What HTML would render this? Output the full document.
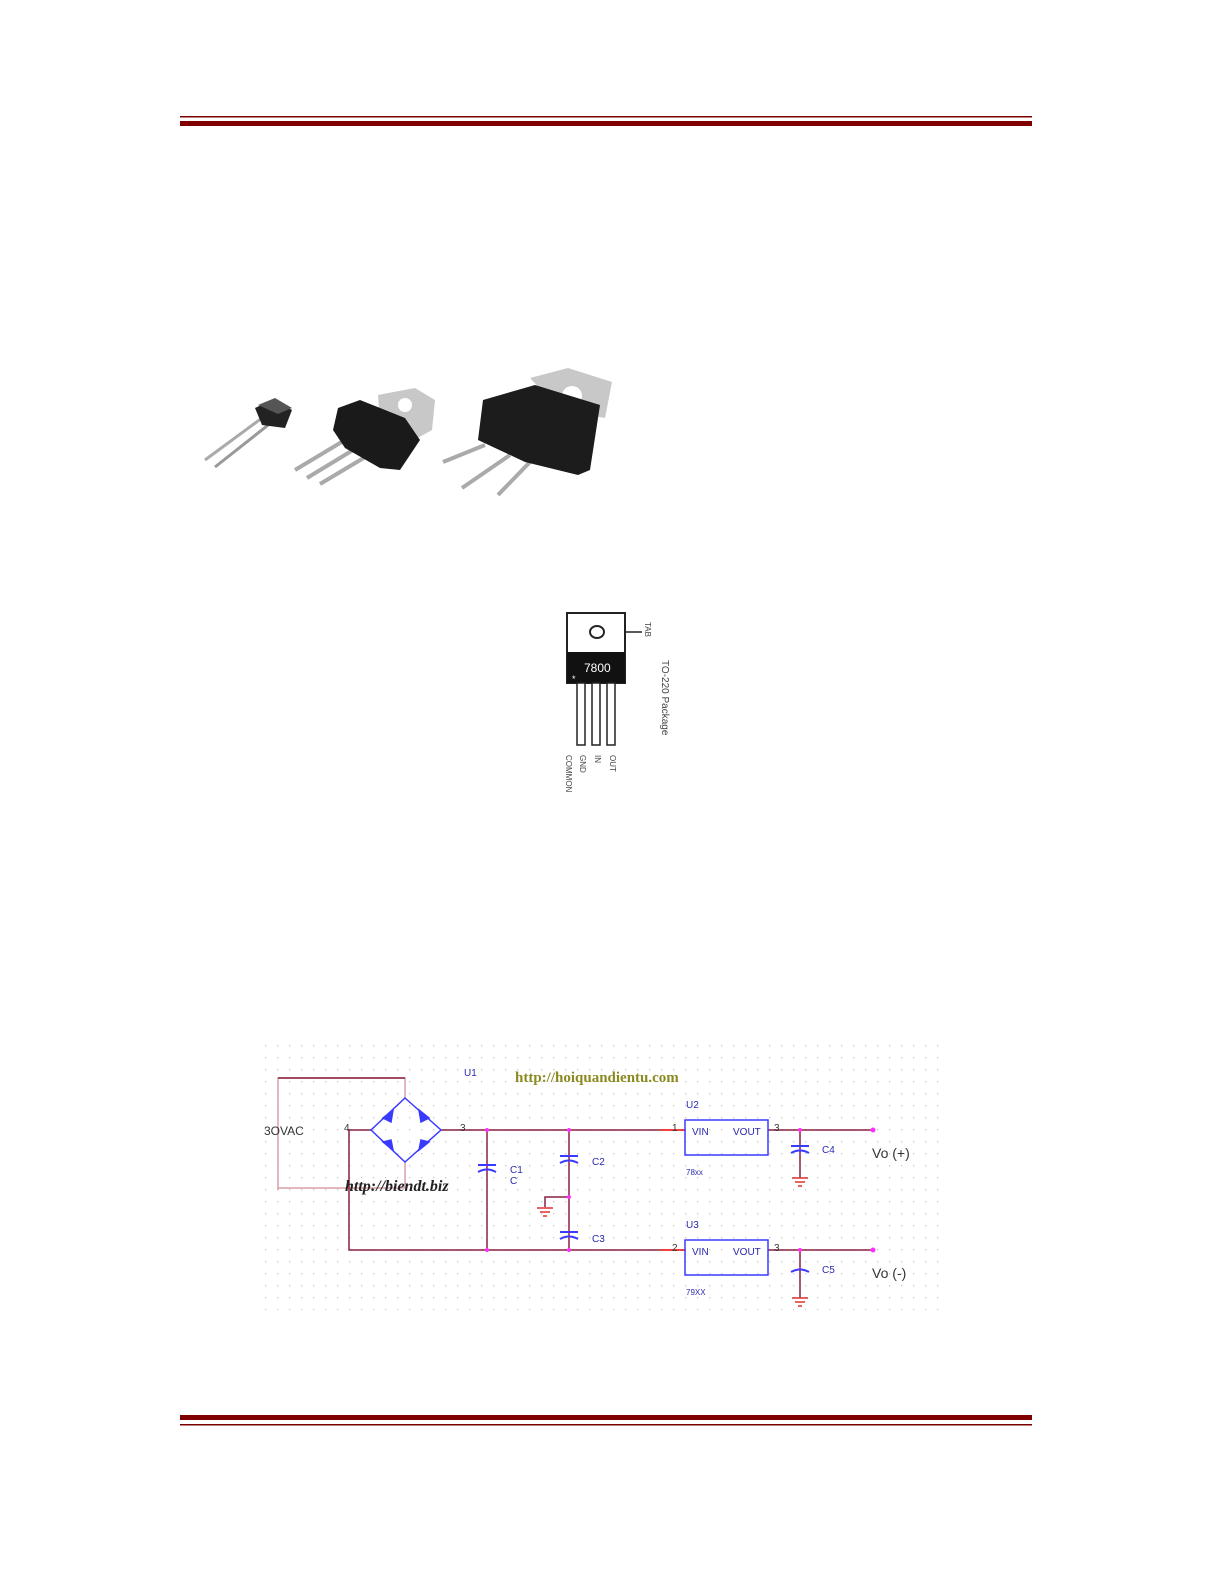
<!DOCTYPE html>
<html><head><meta charset="utf-8"><style>
html,body{margin:0;padding:0;background:#fff;overflow:hidden;width:1225px;height:1585px;}
svg{display:block;}
</style></head><body>
<svg width="1225" height="1585" viewBox="0 0 1225 1585" xmlns="http://www.w3.org/2000/svg" font-family="Liberation Sans, sans-serif">
<defs>
<pattern id="dots" x="265" y="1045" width="12" height="12" patternUnits="userSpaceOnUse">
<rect x="0" y="0" width="1.3" height="1.3" fill="#c8c8c8"/>
</pattern>
</defs>
<rect x="180" y="116" width="852" height="1.5" fill="#7a0000"/>
<rect x="180" y="121" width="852" height="5" fill="#800000"/>
<rect x="180" y="1415" width="852" height="5" fill="#800000"/>
<rect x="180" y="1424" width="852" height="1.5" fill="#7a0000"/>

<g>
<line x1="262" y1="418" x2="205" y2="460" stroke="#aaa" stroke-width="3"/>
<line x1="272" y1="422" x2="215" y2="467" stroke="#999" stroke-width="3"/>
<polygon points="255,408 272,400 292,410 285,428 262,425" fill="#222"/>
<polygon points="258,405 275,398 292,408 278,414" fill="#555"/>
<polygon points="378,395 415,388 435,400 432,430 405,445 380,425" fill="#c8c8c8"/>
<circle cx="405" cy="405" r="7" fill="#fff"/>
<line x1="345" y1="440" x2="295" y2="470" stroke="#aaa" stroke-width="4"/>
<line x1="358" y1="447" x2="307" y2="478" stroke="#aaa" stroke-width="4"/>
<line x1="372" y1="453" x2="320" y2="484" stroke="#aaa" stroke-width="4"/>
<polygon points="338,408 360,400 405,418 420,440 400,470 380,468 345,448 333,430" fill="#1a1a1a"/>
<polygon points="530,378 568,368 612,382 605,418 560,410" fill="#c8c8c8"/>
<circle cx="572" cy="396" r="10" fill="#fff"/>
<line x1="485" y1="445" x2="443" y2="462" stroke="#aaa" stroke-width="4"/>
<line x1="510" y1="455" x2="462" y2="488" stroke="#aaa" stroke-width="4"/>
<line x1="530" y1="462" x2="498" y2="495" stroke="#aaa" stroke-width="4"/>
<polygon points="483,400 535,385 600,405 590,470 578,475 525,462 478,440" fill="#1c1c1c"/>
</g>

<g>
<rect x="567" y="613" width="58" height="70" fill="#fff" stroke="#222" stroke-width="2"/>
<rect x="567" y="652" width="58" height="31" fill="#111"/>
<ellipse cx="597" cy="632" rx="7" ry="6" fill="none" stroke="#222" stroke-width="2"/>
<text x="584" y="672" font-size="12" fill="#fff">7800</text>
<text x="572" y="682" font-size="9" fill="#fff">*</text>
<line x1="625" y1="632" x2="642" y2="632" stroke="#222" stroke-width="1.5"/>
<g fill="#fff" stroke="#222" stroke-width="1.5">
<rect x="577" y="683" width="8" height="62"/>
<rect x="592" y="683" width="8" height="62"/>
<rect x="607" y="683" width="8" height="62"/>
</g>
<g fill="#444" font-size="8">
<text transform="translate(566,755) rotate(90)">COMMON</text>
<text transform="translate(580,755) rotate(90)">GND</text>
<text transform="translate(595,755) rotate(90)">IN</text>
<text transform="translate(610,755) rotate(90)">OUT</text>
<text transform="translate(645,622) rotate(90)">TAB</text>
<text transform="translate(662,660) rotate(90)" font-size="10">TO-220 Package</text>
</g>
</g>

<rect x="265" y="1045" width="680" height="265" fill="url(#dots)"/>
<g fill="none" stroke-width="1.5">
<polyline points="278,1190 278,1078 405,1078 405,1098" stroke="#d8a0a8"/>
<line x1="278" y1="1078" x2="405" y2="1078" stroke="#8a2040" />
<polyline points="278,1188 405,1188 405,1162" stroke="#d8a0a8"/>
<polyline points="371,1130 349,1130 349,1250 680,1250" stroke="#8a2040"/>
<line x1="441" y1="1130" x2="680" y2="1130" stroke="#8a2040"/>
<line x1="660" y1="1130" x2="685" y2="1130" stroke="#f04040" stroke-width="2"/>
<line x1="660" y1="1250" x2="685" y2="1250" stroke="#f04040" stroke-width="2"/>
<line x1="768" y1="1130" x2="873" y2="1130" stroke="#8a2040"/>
<line x1="768" y1="1250" x2="873" y2="1250" stroke="#8a2040"/>
<line x1="487" y1="1130" x2="487" y2="1250" stroke="#8a2040"/>
<line x1="569" y1="1130" x2="569" y2="1250" stroke="#8a2040"/>
<polyline points="569,1197 545,1197 545,1207" stroke="#8a2040"/>
<line x1="800" y1="1130" x2="800" y2="1178" stroke="#8a2040"/>
<line x1="800" y1="1250" x2="800" y2="1298" stroke="#8a2040"/>
</g>
<g stroke="#3a3aff" stroke-width="1.5" fill="#3a3aff">
<polygon points="405,1098 441,1130 405,1162 371,1130" fill="none"/>
<polygon points="383,1118 393,1110 391,1122"/>
<polygon points="419,1110 429,1118 421,1122"/>
<polygon points="383,1142 393,1150 391,1140"/>
<polygon points="419,1150 429,1142 421,1140"/>
</g>
<g stroke="#3a3aff" stroke-width="2" fill="none">
<line x1="478" y1="1165" x2="496" y2="1165"/><path d="M478,1172 Q487,1167 496,1172"/>
<line x1="560" y1="1156" x2="578" y2="1156"/><path d="M560,1163 Q569,1158 578,1163"/>
<line x1="560" y1="1232" x2="578" y2="1232"/><path d="M560,1239 Q569,1234 578,1239"/>
<line x1="791" y1="1146" x2="809" y2="1146"/><path d="M791,1153 Q800,1148 809,1153"/>
<path d="M791,1272 Q800,1267 809,1272"/>
<rect x="685" y="1120" width="83" height="35" stroke-width="1.5"/>
<rect x="685" y="1240" width="83" height="35" stroke-width="1.5"/>
</g>
<g stroke="#e03030" stroke-width="1.5">
<line x1="537" y1="1208" x2="553" y2="1208"/><line x1="540" y1="1212" x2="550" y2="1212"/><line x1="543" y1="1216" x2="547" y2="1216"/>
<line x1="792" y1="1178" x2="808" y2="1178"/><line x1="795" y1="1182" x2="805" y2="1182"/><line x1="798" y1="1186" x2="802" y2="1186"/>
<line x1="792" y1="1298" x2="808" y2="1298"/><line x1="795" y1="1302" x2="805" y2="1302"/><line x1="798" y1="1306" x2="802" y2="1306"/>
</g>
<g fill="#ff30ff">
<circle cx="487" cy="1130" r="2"/><circle cx="569" cy="1130" r="2"/>
<circle cx="487" cy="1250" r="2"/><circle cx="569" cy="1250" r="2"/>
<circle cx="569" cy="1197" r="2"/><circle cx="800" cy="1130" r="2"/><circle cx="800" cy="1250" r="2"/>
<circle cx="873" cy="1130" r="2.5"/><circle cx="873" cy="1250" r="2.5"/>
</g>
<g font-size="10" fill="#2a2ab0">
<text x="464" y="1076">U1</text>
<text x="686" y="1108">U2</text>
<text x="686" y="1228">U3</text>
<text x="692" y="1135">VIN</text>
<text x="733" y="1135">VOUT</text>
<text x="692" y="1255">VIN</text>
<text x="733" y="1255">VOUT</text>
<text x="686" y="1175" font-size="8">78xx</text>
<text x="686" y="1295" font-size="8">79XX</text>
<text x="592" y="1165">C2</text>
<text x="592" y="1242">C3</text>
<text x="510" y="1173">C1</text>
<text x="510" y="1184">C</text>
<text x="822" y="1153">C4</text>
<text x="822" y="1273">C5</text>
</g>
<g font-size="10" fill="#333">
<text x="344" y="1131">4</text>
<text x="460" y="1131">3</text>
<text x="672" y="1131">1</text>
<text x="672" y="1251">2</text>
<text x="774" y="1131">3</text>
<text x="774" y="1251">3</text>
<text x="264" y="1135" font-size="12">3OVAC</text>
</g>
<text x="872" y="1158" font-size="14" fill="#333">Vo (+)</text>
<text x="872" y="1278" font-size="14" fill="#333">Vo (-)</text>
<text x="515" y="1082" font-family="Liberation Serif, serif" font-weight="bold" font-size="15" fill="#8a8a20">http://hoiquandientu.com</text>
<text x="345" y="1191" font-family="Liberation Serif, serif" font-weight="bold" font-style="italic" font-size="16" fill="#222">http://biendt.biz</text>
</svg>
</body></html>
